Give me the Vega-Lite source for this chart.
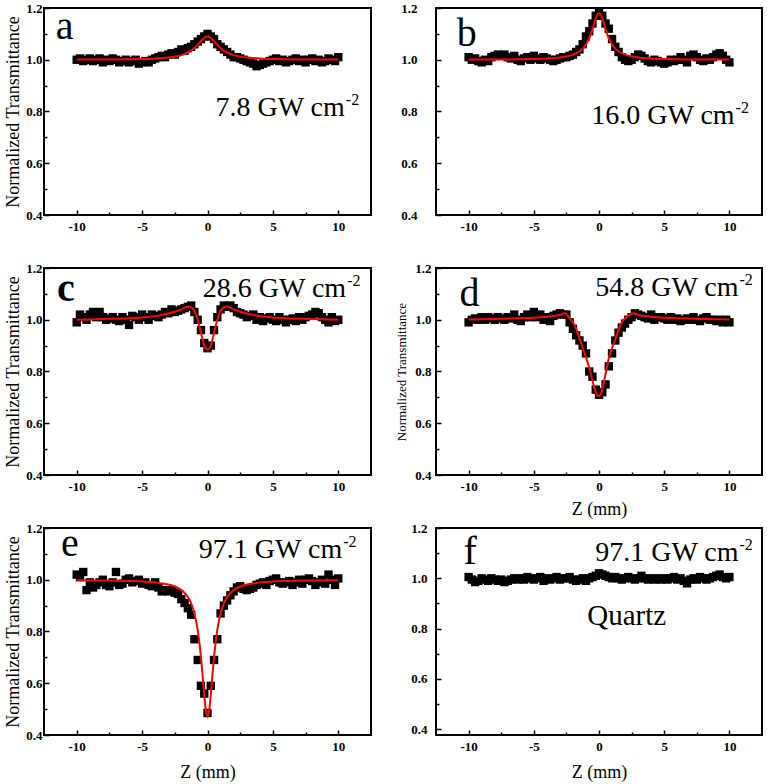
{
"$schema": "https://vega.github.io/schema/vega-lite/v6.json",
"padding": {"left": 3, "top": 1, "right": 0, "bottom": 0},
"bounds": "flush",
"columns": 2,
"spacing": {"row": 53, "column": 65},
"concat": [
  {"width": 327, "height": 207,
   "encoding": {
    "x": {"field": "z", "type": "quantitative", "scale": {"domain": [-12.5, 12.5], "nice": false, "zero": false}, "axis": {"values": [-10,-7.5,-5,-2.5,0,2.5,5,7.5,10], "labelExpr": "datum.value % 5 === 0 ? '' + datum.value : ''", "tickSize": {"condition": {"test": "datum.value % 5 === 0", "value": -5}, "value": -3}, "labelPadding": 10, "title": null}},
    "y": {"field": "t", "type": "quantitative", "scale": {"domain": [0.4, 1.2], "nice": false, "zero": false}, "axis": {"values": [0.4,0.5,0.6,0.7,0.8,0.9,1.0,1.1,1.2], "labelExpr": "round(datum.value*10) % 2 === 0 ? format(datum.value, '.1f') : ''", "tickSize": {"condition": {"test": "round(datum.value*10) % 2 === 0", "value": -5}, "value": -3}, "labelPadding": 7, "title": "Normalized Transmittance", "titlePadding": 3}}
   },
   "layer": [
    {"data": {"name": "pts"}, "transform": [{"filter": "datum.p === 'a'"}], "mark": {"type": "point", "shape": "square", "filled": true, "color": "black", "size": 70, "opacity": 1}},
    {"data": {"name": "fit"}, "transform": [{"filter": "datum.p === 'a'"}], "mark": {"type": "line", "color": "#ff0000", "strokeWidth": 2, "interpolate": "monotone"}, "encoding": {}},
    {"data": {"name": "letters"}, "transform": [{"filter": "datum.p === 'a'"}], "mark": {"type": "text", "fontSize": 40, "align": "left", "baseline": "alphabetic"}, "encoding": {"text": {"field": "lab"}}},
    {"data": {"name": "ann"}, "transform": [{"filter": "datum.p === 'a'"}], "mark": {"type": "text", "fontSize": 28, "align": "right", "baseline": "alphabetic"}, "encoding": {"text": {"field": "lab"}}},
    {"data": {"name": "ann"}, "transform": [{"filter": "datum.p === 'a'"}], "mark": {"type": "text", "fontSize": 16, "align": "left", "baseline": "alphabetic", "dx": 1, "dy": -11}, "encoding": {"text": {"value": "-2"}}}
   ]},
  {"width": 326, "height": 207,
   "encoding": {
    "x": {"field": "z", "type": "quantitative", "scale": {"domain": [-12.5, 12.5], "nice": false, "zero": false}, "axis": {"values": [-10,-7.5,-5,-2.5,0,2.5,5,7.5,10], "labelExpr": "datum.value % 5 === 0 ? '' + datum.value : ''", "tickSize": {"condition": {"test": "datum.value % 5 === 0", "value": -5}, "value": -3}, "labelPadding": 10, "title": null}},
    "y": {"field": "t", "type": "quantitative", "scale": {"domain": [0.4, 1.2], "nice": false, "zero": false}, "axis": {"values": [0.4,0.5,0.6,0.7,0.8,0.9,1.0,1.1,1.2], "labelExpr": "round(datum.value*10) % 2 === 0 ? format(datum.value, '.1f') : ''", "tickSize": {"condition": {"test": "round(datum.value*10) % 2 === 0", "value": -5}, "value": -3}, "labelPadding": 24, "title": null}}
   },
   "layer": [
    {"data": {"name": "pts"}, "transform": [{"filter": "datum.p === 'b'"}], "mark": {"type": "point", "shape": "square", "filled": true, "color": "black", "size": 70, "opacity": 1}},
    {"data": {"name": "fit"}, "transform": [{"filter": "datum.p === 'b'"}], "mark": {"type": "line", "color": "#ff0000", "strokeWidth": 2, "interpolate": "monotone"}, "encoding": {}},
    {"data": {"name": "letters"}, "transform": [{"filter": "datum.p === 'b'"}], "mark": {"type": "text", "fontSize": 40, "align": "left", "baseline": "alphabetic"}, "encoding": {"text": {"field": "lab"}}},
    {"data": {"name": "ann"}, "transform": [{"filter": "datum.p === 'b'"}], "mark": {"type": "text", "fontSize": 28, "align": "right", "baseline": "alphabetic"}, "encoding": {"text": {"field": "lab"}}},
    {"data": {"name": "ann"}, "transform": [{"filter": "datum.p === 'b'"}], "mark": {"type": "text", "fontSize": 16, "align": "left", "baseline": "alphabetic", "dx": 1, "dy": -11}, "encoding": {"text": {"value": "-2"}}}
   ]},
   {"width": 327, "height": 207,
    "encoding": {
     "x": {"field": "z", "type": "quantitative", "scale": {"domain": [-12.5, 12.5], "nice": false, "zero": false}, "axis": {"values": [-10,-7.5,-5,-2.5,0,2.5,5,7.5,10], "labelExpr": "datum.value % 5 === 0 ? '' + datum.value : ''", "tickSize": {"condition": {"test": "datum.value % 5 === 0", "value": -5}, "value": -3}, "labelPadding": 10, "title": null}},
     "y": {"field": "t", "type": "quantitative", "scale": {"domain": [0.4, 1.2], "nice": false, "zero": false}, "axis": {"values": [0.4,0.5,0.6,0.7,0.8,0.9,1.0,1.1,1.2], "labelExpr": "round(datum.value*10) % 2 === 0 ? format(datum.value, '.1f') : ''", "tickSize": {"condition": {"test": "round(datum.value*10) % 2 === 0", "value": -5}, "value": -3}, "labelPadding": 7, "title": "Normalized Transmittance", "titlePadding": 3}}
    },
    "layer": [
     {"data": {"name": "pts"}, "transform": [{"filter": "datum.p === 'c'"}], "mark": {"type": "point", "shape": "square", "filled": true, "color": "black", "size": 70, "opacity": 1}},
     {"data": {"name": "fit"}, "transform": [{"filter": "datum.p === 'c'"}], "mark": {"type": "line", "color": "#ff0000", "strokeWidth": 2, "interpolate": "monotone"}, "encoding": {}},
     {"data": {"name": "letters"}, "transform": [{"filter": "datum.p === 'c'"}], "mark": {"type": "text", "fontSize": 40, "align": "left", "baseline": "alphabetic", "fontWeight": "bold"}, "encoding": {"text": {"field": "lab"}}},
     {"data": {"name": "ann"}, "transform": [{"filter": "datum.p === 'c'"}], "mark": {"type": "text", "fontSize": 28, "align": "right", "baseline": "alphabetic"}, "encoding": {"text": {"field": "lab"}}},
     {"data": {"name": "ann"}, "transform": [{"filter": "datum.p === 'c'"}], "mark": {"type": "text", "fontSize": 16, "align": "left", "baseline": "alphabetic", "dx": 1, "dy": -11}, "encoding": {"text": {"value": "-2"}}}
    ]},
   {"width": 326, "height": 207,
    "encoding": {
     "x": {"field": "z", "type": "quantitative", "scale": {"domain": [-12.5, 12.5], "nice": false, "zero": false}, "axis": {"values": [-10,-7.5,-5,-2.5,0,2.5,5,7.5,10], "labelExpr": "datum.value % 5 === 0 ? '' + datum.value : ''", "tickSize": {"condition": {"test": "datum.value % 5 === 0", "value": -5}, "value": -3}, "labelPadding": 10, "title": "Z (mm)", "titlePadding": 7}},
     "y": {"field": "t", "type": "quantitative", "scale": {"domain": [0.4, 1.2], "nice": false, "zero": false}, "axis": {"values": [0.4,0.5,0.6,0.7,0.8,0.9,1.0,1.1,1.2], "labelExpr": "round(datum.value*10) % 2 === 0 ? format(datum.value, '.1f') : ''", "tickSize": {"condition": {"test": "round(datum.value*10) % 2 === 0", "value": -5}, "value": -3}, "labelPadding": 10, "title": "Normalized Transmittance", "titleFontSize": 13, "titlePadding": 6}}
    },
    "layer": [
     {"data": {"name": "pts"}, "transform": [{"filter": "datum.p === 'd'"}], "mark": {"type": "point", "shape": "square", "filled": true, "color": "black", "size": 70, "opacity": 1}},
     {"data": {"name": "fit"}, "transform": [{"filter": "datum.p === 'd'"}], "mark": {"type": "line", "color": "#ff0000", "strokeWidth": 2, "interpolate": "monotone"}, "encoding": {}},
     {"data": {"name": "letters"}, "transform": [{"filter": "datum.p === 'd'"}], "mark": {"type": "text", "fontSize": 40, "align": "left", "baseline": "alphabetic"}, "encoding": {"text": {"field": "lab"}}},
     {"data": {"name": "ann"}, "transform": [{"filter": "datum.p === 'd'"}], "mark": {"type": "text", "fontSize": 28, "align": "right", "baseline": "alphabetic"}, "encoding": {"text": {"field": "lab"}}},
     {"data": {"name": "ann"}, "transform": [{"filter": "datum.p === 'd'"}], "mark": {"type": "text", "fontSize": 16, "align": "left", "baseline": "alphabetic", "dx": 1, "dy": -11}, "encoding": {"text": {"value": "-2"}}}
    ]},
   {"width": 327, "height": 207,
    "encoding": {
     "x": {"field": "z", "type": "quantitative", "scale": {"domain": [-12.5, 12.5], "nice": false, "zero": false}, "axis": {"values": [-10,-7.5,-5,-2.5,0,2.5,5,7.5,10], "labelExpr": "datum.value % 5 === 0 ? '' + datum.value : ''", "tickSize": {"condition": {"test": "datum.value % 5 === 0", "value": -5}, "value": -3}, "labelPadding": 10, "title": "Z (mm)", "titlePadding": 10}},
     "y": {"field": "t", "type": "quantitative", "scale": {"domain": [0.4, 1.2], "nice": false, "zero": false}, "axis": {"values": [0.4,0.5,0.6,0.7,0.8,0.9,1.0,1.1,1.2], "labelExpr": "round(datum.value*10) % 2 === 0 ? format(datum.value, '.1f') : ''", "tickSize": {"condition": {"test": "round(datum.value*10) % 2 === 0", "value": -5}, "value": -3}, "labelPadding": 7, "title": "Normalized Transmittance", "titlePadding": 3}}
    },
    "layer": [
     {"data": {"name": "pts"}, "transform": [{"filter": "datum.p === 'e'"}], "mark": {"type": "point", "shape": "square", "filled": true, "color": "black", "size": 70, "opacity": 1}},
     {"data": {"name": "fit"}, "transform": [{"filter": "datum.p === 'e'"}], "mark": {"type": "line", "color": "#ff0000", "strokeWidth": 2, "interpolate": "monotone"}, "encoding": {}},
     {"data": {"name": "letters"}, "transform": [{"filter": "datum.p === 'e'"}], "mark": {"type": "text", "fontSize": 40, "align": "left", "baseline": "alphabetic"}, "encoding": {"text": {"field": "lab"}}},
     {"data": {"name": "ann"}, "transform": [{"filter": "datum.p === 'e'"}], "mark": {"type": "text", "fontSize": 28, "align": "right", "baseline": "alphabetic"}, "encoding": {"text": {"field": "lab"}}},
     {"data": {"name": "ann"}, "transform": [{"filter": "datum.p === 'e'"}], "mark": {"type": "text", "fontSize": 16, "align": "left", "baseline": "alphabetic", "dx": 1, "dy": -11}, "encoding": {"text": {"value": "-2"}}}
    ]},
   {"width": 326, "height": 207,
    "encoding": {
     "x": {"field": "z", "type": "quantitative", "scale": {"domain": [-12.5, 12.5], "nice": false, "zero": false}, "axis": {"values": [-10,-7.5,-5,-2.5,0,2.5,5,7.5,10], "labelExpr": "datum.value % 5 === 0 ? '' + datum.value : ''", "tickSize": {"condition": {"test": "datum.value % 5 === 0", "value": -5}, "value": -3}, "labelPadding": 10, "title": "Z (mm)", "titlePadding": 10}},
     "y": {"field": "t", "type": "quantitative", "scale": {"domain": [0.377, 1.2], "nice": false, "zero": false}, "axis": {"values": [0.4,0.5,0.6,0.7,0.8,0.9,1.0,1.1,1.2], "labelExpr": "round(datum.value*10) % 2 === 0 ? format(datum.value, '.1f') : ''", "tickSize": {"condition": {"test": "round(datum.value*10) % 2 === 0", "value": -5}, "value": -3}, "labelPadding": 14, "title": null}}
    },
    "layer": [
     {"data": {"name": "pts"}, "transform": [{"filter": "datum.p === 'f'"}], "mark": {"type": "point", "shape": "square", "filled": true, "color": "black", "size": 70, "opacity": 1}},
     {"data": {"name": "letters"}, "transform": [{"filter": "datum.p === 'f'"}], "mark": {"type": "text", "fontSize": 40, "align": "left", "baseline": "alphabetic"}, "encoding": {"text": {"field": "lab"}}},
     {"data": {"name": "ann"}, "transform": [{"filter": "datum.p === 'f'"}], "mark": {"type": "text", "fontSize": 28, "align": "right", "baseline": "alphabetic"}, "encoding": {"text": {"field": "lab"}}},
     {"data": {"name": "ann"}, "transform": [{"filter": "datum.p === 'f'"}], "mark": {"type": "text", "fontSize": 16, "align": "left", "baseline": "alphabetic", "dx": 1, "dy": -11}, "encoding": {"text": {"value": "-2"}}},
     {"data": {"name": "note"}, "transform": [{"filter": "datum.p === 'f'"}], "mark": {"type": "text", "fontSize": 29, "align": "left", "baseline": "alphabetic"}, "encoding": {"text": {"field": "lab"}}}
    ]}
],
"datasets": {
 "letters": [
  {"p":"a","z":-11.6,"t":1.08,"lab":"a"},
  {"p":"b","z":-10.9,"t":1.053,"lab":"b"},
  {"p":"c","z":-11.5,"t":1.072,"lab":"c"},
  {"p":"d","z":-10.7,"t":1.053,"lab":"d"},
  {"p":"e","z":-11.2,"t":1.092,"lab":"e"},
  {"p":"f","z":-10.4,"t":1.058,"lab":"f"}
 ],
 "ann": [
  {"p":"a","z":10.5,"t":0.783,"lab":"7.8 GW cm"},
  {"p":"b","z":10.4,"t":0.753,"lab":"16.0 GW cm"},
  {"p":"c","z":10.6,"t":1.088,"lab":"28.6 GW cm"},
  {"p":"d","z":10.7,"t":1.092,"lab":"54.8 GW cm"},
  {"p":"e","z":10.3,"t":1.084,"lab":"97.1 GW cm"},
  {"p":"f","z":10.7,"t":1.07,"lab":"97.1 GW cm"}
 ],
 "note": [
  {"p":"f","z":-0.9,"t":0.814,"lab":"Quartz"}
 ],
 "fit": [
  {"p":"a","z":-10,"t":1.001},{"p":"a","z":-8,"t":1.001},{"p":"a","z":-6,"t":1.002},{"p":"a","z":-5,"t":1.003},{"p":"a","z":-4,"t":1.005},{"p":"a","z":-3,"t":1.009},{"p":"a","z":-2.5,"t":1.012},{"p":"a","z":-2,"t":1.018},{"p":"a","z":-1.5,"t":1.028},{"p":"a","z":-1.25,"t":1.035},{"p":"a","z":-1,"t":1.045},{"p":"a","z":-0.75,"t":1.058},{"p":"a","z":-0.5,"t":1.072},{"p":"a","z":-0.25,"t":1.085},{"p":"a","z":0,"t":1.09},{"p":"a","z":0.25,"t":1.085},{"p":"a","z":0.5,"t":1.072},{"p":"a","z":0.75,"t":1.058},{"p":"a","z":1,"t":1.045},{"p":"a","z":1.25,"t":1.035},{"p":"a","z":1.5,"t":1.028},{"p":"a","z":2,"t":1.018},{"p":"a","z":2.5,"t":1.012},{"p":"a","z":3,"t":1.009},{"p":"a","z":4,"t":1.005},{"p":"a","z":5,"t":1.003},{"p":"a","z":6,"t":1.002},{"p":"a","z":8,"t":1.001},{"p":"a","z":10,"t":1.001},
  {"p":"b","z":-10,"t":1.001},{"p":"b","z":-8,"t":1.001},{"p":"b","z":-6,"t":1.002},{"p":"b","z":-5,"t":1.003},{"p":"b","z":-4,"t":1.005},{"p":"b","z":-3,"t":1.009},{"p":"b","z":-2.5,"t":1.013},{"p":"b","z":-2,"t":1.02},{"p":"b","z":-1.5,"t":1.032},{"p":"b","z":-1.25,"t":1.043},{"p":"b","z":-1,"t":1.059},{"p":"b","z":-0.75,"t":1.084},{"p":"b","z":-0.625,"t":1.1},{"p":"b","z":-0.5,"t":1.119},{"p":"b","z":-0.375,"t":1.14},{"p":"b","z":-0.25,"t":1.16},{"p":"b","z":-0.125,"t":1.174},{"p":"b","z":0,"t":1.18},{"p":"b","z":0.125,"t":1.174},{"p":"b","z":0.25,"t":1.16},{"p":"b","z":0.375,"t":1.14},{"p":"b","z":0.5,"t":1.119},{"p":"b","z":0.625,"t":1.1},{"p":"b","z":0.75,"t":1.084},{"p":"b","z":1,"t":1.059},{"p":"b","z":1.25,"t":1.043},{"p":"b","z":1.5,"t":1.032},{"p":"b","z":2,"t":1.02},{"p":"b","z":2.5,"t":1.013},{"p":"b","z":3,"t":1.009},{"p":"b","z":4,"t":1.005},{"p":"b","z":5,"t":1.003},{"p":"b","z":6,"t":1.002},{"p":"b","z":8,"t":1.001},{"p":"b","z":10,"t":1.001},
  {"p":"c","z":-10,"t":1.0},{"p":"c","z":-8,"t":1.003},{"p":"c","z":-6,"t":1.006},{"p":"c","z":-5,"t":1.009},{"p":"c","z":-4,"t":1.014},{"p":"c","z":-3,"t":1.024},{"p":"c","z":-2.5,"t":1.031},{"p":"c","z":-2,"t":1.04},{"p":"c","z":-1.75,"t":1.046},{"p":"c","z":-1.5,"t":1.051},{"p":"c","z":-1.25,"t":1.048},{"p":"c","z":-1,"t":1.035},{"p":"c","z":-0.75,"t":1.0},{"p":"c","z":-0.5,"t":0.95},{"p":"c","z":-0.25,"t":0.9},{"p":"c","z":0,"t":0.885},{"p":"c","z":0.25,"t":0.9},{"p":"c","z":0.5,"t":0.95},{"p":"c","z":0.75,"t":1.0},{"p":"c","z":1,"t":1.035},{"p":"c","z":1.25,"t":1.048},{"p":"c","z":1.5,"t":1.051},{"p":"c","z":1.75,"t":1.046},{"p":"c","z":2,"t":1.04},{"p":"c","z":2.5,"t":1.031},{"p":"c","z":3,"t":1.024},{"p":"c","z":4,"t":1.014},{"p":"c","z":5,"t":1.009},{"p":"c","z":6,"t":1.006},{"p":"c","z":8,"t":1.003},{"p":"c","z":10,"t":1.0},
  {"p":"d","z":-10,"t":1.001},{"p":"d","z":-8,"t":1.003},{"p":"d","z":-6,"t":1.006},{"p":"d","z":-5,"t":1.008},{"p":"d","z":-4,"t":1.012},{"p":"d","z":-3,"t":1.018},{"p":"d","z":-2.6,"t":1.025},{"p":"d","z":-2.25,"t":1.005},{"p":"d","z":-2,"t":0.99},{"p":"d","z":-1.75,"t":0.965},{"p":"d","z":-1.5,"t":0.93},{"p":"d","z":-1.25,"t":0.89},{"p":"d","z":-1,"t":0.855},{"p":"d","z":-0.75,"t":0.815},{"p":"d","z":-0.5,"t":0.765},{"p":"d","z":-0.25,"t":0.72},{"p":"d","z":0,"t":0.705},{"p":"d","z":0.25,"t":0.73},{"p":"d","z":0.5,"t":0.79},{"p":"d","z":0.75,"t":0.85},{"p":"d","z":1,"t":0.89},{"p":"d","z":1.25,"t":0.925},{"p":"d","z":1.5,"t":0.96},{"p":"d","z":1.75,"t":0.99},{"p":"d","z":2,"t":1.005},{"p":"d","z":2.25,"t":1.015},{"p":"d","z":2.6,"t":1.025},{"p":"d","z":3,"t":1.018},{"p":"d","z":4,"t":1.012},{"p":"d","z":5,"t":1.008},{"p":"d","z":6,"t":1.006},{"p":"d","z":8,"t":1.003},{"p":"d","z":10,"t":1.001},
  {"p":"e","z":-10,"t":0.998},{"p":"e","z":-8,"t":0.997},{"p":"e","z":-6,"t":0.995},{"p":"e","z":-5,"t":0.993},{"p":"e","z":-4,"t":0.989},{"p":"e","z":-3,"t":0.982},{"p":"e","z":-2.5,"t":0.974},{"p":"e","z":-2,"t":0.96},{"p":"e","z":-1.75,"t":0.949},{"p":"e","z":-1.5,"t":0.933},{"p":"e","z":-1.25,"t":0.909},{"p":"e","z":-1,"t":0.87},{"p":"e","z":-0.75,"t":0.806},{"p":"e","z":-0.625,"t":0.759},{"p":"e","z":-0.5,"t":0.701},{"p":"e","z":-0.375,"t":0.63},{"p":"e","z":-0.25,"t":0.555},{"p":"e","z":-0.125,"t":0.494},{"p":"e","z":0,"t":0.47},{"p":"e","z":0.125,"t":0.494},{"p":"e","z":0.25,"t":0.555},{"p":"e","z":0.375,"t":0.63},{"p":"e","z":0.5,"t":0.701},{"p":"e","z":0.625,"t":0.759},{"p":"e","z":0.75,"t":0.806},{"p":"e","z":1,"t":0.87},{"p":"e","z":1.25,"t":0.909},{"p":"e","z":1.5,"t":0.933},{"p":"e","z":1.75,"t":0.949},{"p":"e","z":2,"t":0.96},{"p":"e","z":2.5,"t":0.974},{"p":"e","z":3,"t":0.982},{"p":"e","z":4,"t":0.989},{"p":"e","z":5,"t":0.993},{"p":"e","z":6,"t":0.995},{"p":"e","z":8,"t":0.997},{"p":"e","z":10,"t":0.998}
 ],
 "pts": [
  {"p":"a","z":-10,"t":1.0},{"p":"a","z":-9.75,"t":1.005},{"p":"a","z":-9.5,"t":0.995},{"p":"a","z":-9.25,"t":1.0},{"p":"a","z":-9,"t":1.005},{"p":"a","z":-8.75,"t":0.995},{"p":"a","z":-8.5,"t":1.0},{"p":"a","z":-8.25,"t":1.005},{"p":"a","z":-8,"t":0.99},{"p":"a","z":-7.75,"t":1.0},{"p":"a","z":-7.5,"t":0.995},{"p":"a","z":-7.25,"t":1.005},{"p":"a","z":-7,"t":1.0},{"p":"a","z":-6.75,"t":0.99},{"p":"a","z":-6.5,"t":0.995},{"p":"a","z":-6.25,"t":1.0},{"p":"a","z":-6,"t":0.99},{"p":"a","z":-5.75,"t":0.995},{"p":"a","z":-5.5,"t":1.0},{"p":"a","z":-5.25,"t":0.985},{"p":"a","z":-5,"t":0.99},
  {"p":"a","z":-4.75,"t":0.995},{"p":"a","z":-4.5,"t":0.99},{"p":"a","z":-4.25,"t":1.0},{"p":"a","z":-4,"t":1.005},{"p":"a","z":-3.75,"t":1.01},{"p":"a","z":-3.5,"t":1.015},{"p":"a","z":-3.25,"t":1.01},{"p":"a","z":-3,"t":1.02},{"p":"a","z":-2.75,"t":1.025},{"p":"a","z":-2.5,"t":1.02},{"p":"a","z":-2.25,"t":1.03},
  {"p":"a","z":-2,"t":1.04},{"p":"a","z":-1.75,"t":1.035},{"p":"a","z":-1.5,"t":1.045},{"p":"a","z":-1.25,"t":1.05},{"p":"a","z":-1,"t":1.06},{"p":"a","z":-0.75,"t":1.07},{"p":"a","z":-0.5,"t":1.08},{"p":"a","z":-0.25,"t":1.09},{"p":"a","z":0,"t":1.1},
  {"p":"a","z":0.25,"t":1.09},{"p":"a","z":0.5,"t":1.08},{"p":"a","z":0.75,"t":1.06},{"p":"a","z":1,"t":1.05},{"p":"a","z":1.25,"t":1.04},{"p":"a","z":1.5,"t":1.03},{"p":"a","z":1.75,"t":1.02},{"p":"a","z":2,"t":1.01},
  {"p":"a","z":2.25,"t":1.01},{"p":"a","z":2.5,"t":1.005},{"p":"a","z":2.75,"t":1.0},{"p":"a","z":3,"t":0.995},{"p":"a","z":3.25,"t":0.99},{"p":"a","z":3.5,"t":0.985},{"p":"a","z":3.75,"t":0.975},{"p":"a","z":4,"t":0.98},{"p":"a","z":4.25,"t":0.985},{"p":"a","z":4.5,"t":0.99},{"p":"a","z":4.75,"t":0.995},
  {"p":"a","z":5,"t":1.0},{"p":"a","z":5.25,"t":1.005},{"p":"a","z":5.5,"t":0.995},{"p":"a","z":5.75,"t":1.0},{"p":"a","z":6,"t":0.99},{"p":"a","z":6.25,"t":0.995},{"p":"a","z":6.5,"t":1.0},{"p":"a","z":6.75,"t":1.005},{"p":"a","z":7,"t":0.995},{"p":"a","z":7.25,"t":1.0},{"p":"a","z":7.5,"t":0.99},{"p":"a","z":7.75,"t":1.0},{"p":"a","z":8,"t":1.005},{"p":"a","z":8.25,"t":0.995},{"p":"a","z":8.5,"t":1.0},{"p":"a","z":8.75,"t":0.99},{"p":"a","z":9,"t":0.995},{"p":"a","z":9.25,"t":1.005},{"p":"a","z":9.5,"t":1.0},{"p":"a","z":9.75,"t":0.995},{"p":"a","z":10,"t":1.01},

  {"p":"b","z":-10,"t":1.01},{"p":"b","z":-9.75,"t":1.0},{"p":"b","z":-9.5,"t":1.005},{"p":"b","z":-9.25,"t":0.995},{"p":"b","z":-9,"t":0.99},{"p":"b","z":-8.75,"t":1.0},{"p":"b","z":-8.5,"t":0.995},{"p":"b","z":-8.25,"t":1.01},{"p":"b","z":-8,"t":1.015},{"p":"b","z":-7.75,"t":1.02},{"p":"b","z":-7.5,"t":1.015},{"p":"b","z":-7.25,"t":1.02},{"p":"b","z":-7,"t":1.01},{"p":"b","z":-6.75,"t":1.005},{"p":"b","z":-6.5,"t":1.015},{"p":"b","z":-6.25,"t":1.0},{"p":"b","z":-6,"t":0.995},{"p":"b","z":-5.75,"t":1.005},{"p":"b","z":-5.5,"t":1.01},{"p":"b","z":-5.25,"t":1.0},{"p":"b","z":-5,"t":1.015},
  {"p":"b","z":-4.75,"t":1.005},{"p":"b","z":-4.5,"t":1.0},{"p":"b","z":-4.25,"t":1.01},{"p":"b","z":-4,"t":1.005},{"p":"b","z":-3.75,"t":1.0},{"p":"b","z":-3.5,"t":0.995},{"p":"b","z":-3.25,"t":1.0},{"p":"b","z":-3,"t":1.005},{"p":"b","z":-2.75,"t":1.01},{"p":"b","z":-2.5,"t":1.01},{"p":"b","z":-2.25,"t":1.015},
  {"p":"b","z":-2,"t":1.02},{"p":"b","z":-1.75,"t":1.03},{"p":"b","z":-1.5,"t":1.04},{"p":"b","z":-1.25,"t":1.06},{"p":"b","z":-1,"t":1.09},{"p":"b","z":-0.75,"t":1.11},{"p":"b","z":-0.5,"t":1.14},{"p":"b","z":-0.25,"t":1.17},{"p":"b","z":0,"t":1.18},
  {"p":"b","z":0.25,"t":1.17},{"p":"b","z":0.5,"t":1.14},{"p":"b","z":0.75,"t":1.12},{"p":"b","z":1,"t":1.08},{"p":"b","z":1.25,"t":1.05},{"p":"b","z":1.5,"t":1.03},{"p":"b","z":1.75,"t":1.01},{"p":"b","z":2,"t":1.0},
  {"p":"b","z":2.25,"t":0.995},{"p":"b","z":2.5,"t":1.0},{"p":"b","z":2.75,"t":1.01},{"p":"b","z":3,"t":1.02},{"p":"b","z":3.25,"t":1.015},{"p":"b","z":3.5,"t":1.005},{"p":"b","z":3.75,"t":0.995},{"p":"b","z":4,"t":0.99},{"p":"b","z":4.25,"t":1.0},{"p":"b","z":4.5,"t":0.995},{"p":"b","z":4.75,"t":0.99},
  {"p":"b","z":5,"t":0.985},{"p":"b","z":5.25,"t":0.99},{"p":"b","z":5.5,"t":1.0},{"p":"b","z":5.75,"t":0.995},{"p":"b","z":6,"t":1.0},{"p":"b","z":6.25,"t":1.01},{"p":"b","z":6.5,"t":1.0},{"p":"b","z":6.75,"t":0.99},{"p":"b","z":7,"t":1.015},{"p":"b","z":7.25,"t":1.02},{"p":"b","z":7.5,"t":1.01},{"p":"b","z":7.75,"t":1.0},{"p":"b","z":8,"t":0.995},{"p":"b","z":8.25,"t":1.005},{"p":"b","z":8.5,"t":1.0},{"p":"b","z":8.75,"t":1.01},{"p":"b","z":9,"t":1.02},{"p":"b","z":9.25,"t":1.025},{"p":"b","z":9.5,"t":1.015},{"p":"b","z":9.75,"t":1.0},{"p":"b","z":10,"t":0.99},

  {"p":"c","z":-10,"t":0.99},{"p":"c","z":-9.75,"t":1.02},{"p":"c","z":-9.5,"t":1.01},{"p":"c","z":-9.25,"t":1.0},{"p":"c","z":-9,"t":1.02},{"p":"c","z":-8.75,"t":1.03},{"p":"c","z":-8.5,"t":1.01},{"p":"c","z":-8.25,"t":1.03},{"p":"c","z":-8,"t":1.01},{"p":"c","z":-7.75,"t":1.0},{"p":"c","z":-7.5,"t":1.005},{"p":"c","z":-7.25,"t":1.01},{"p":"c","z":-7,"t":1.0},{"p":"c","z":-6.75,"t":0.995},{"p":"c","z":-6.5,"t":1.01},{"p":"c","z":-6.25,"t":1.0},{"p":"c","z":-6,"t":0.98},{"p":"c","z":-5.75,"t":1.015},{"p":"c","z":-5.5,"t":1.01},{"p":"c","z":-5.25,"t":1.0},{"p":"c","z":-5,"t":1.02},
  {"p":"c","z":-4.75,"t":1.01},{"p":"c","z":-4.5,"t":1.0},{"p":"c","z":-4.25,"t":1.02},{"p":"c","z":-4,"t":1.015},{"p":"c","z":-3.75,"t":1.01},{"p":"c","z":-3.5,"t":1.02},{"p":"c","z":-3.25,"t":1.03},{"p":"c","z":-3,"t":1.025},{"p":"c","z":-2.75,"t":1.04},{"p":"c","z":-2.5,"t":1.03},{"p":"c","z":-2.25,"t":1.035},
  {"p":"c","z":-2,"t":1.04},{"p":"c","z":-1.75,"t":1.045},{"p":"c","z":-1.5,"t":1.05},{"p":"c","z":-1.25,"t":1.055},{"p":"c","z":-1,"t":1.03},{"p":"c","z":-0.75,"t":1.0},{"p":"c","z":-0.5,"t":0.96},{"p":"c","z":-0.25,"t":0.91},{"p":"c","z":0,"t":0.89},
  {"p":"c","z":0.25,"t":0.9},{"p":"c","z":0.5,"t":0.96},{"p":"c","z":0.75,"t":1.01},{"p":"c","z":1,"t":1.04},{"p":"c","z":1.25,"t":1.055},{"p":"c","z":1.5,"t":1.05},{"p":"c","z":1.75,"t":1.055},{"p":"c","z":2,"t":1.045},
  {"p":"c","z":2.25,"t":1.03},{"p":"c","z":2.5,"t":1.025},{"p":"c","z":2.75,"t":1.02},{"p":"c","z":3,"t":1.01},{"p":"c","z":3.25,"t":1.015},{"p":"c","z":3.5,"t":1.02},{"p":"c","z":3.75,"t":1.0},{"p":"c","z":4,"t":1.01},{"p":"c","z":4.25,"t":0.995},{"p":"c","z":4.5,"t":1.005},{"p":"c","z":4.75,"t":1.01},
  {"p":"c","z":5,"t":1.0},{"p":"c","z":5.25,"t":0.995},{"p":"c","z":5.5,"t":1.01},{"p":"c","z":5.75,"t":1.0},{"p":"c","z":6,"t":0.99},{"p":"c","z":6.25,"t":1.0},{"p":"c","z":6.5,"t":1.005},{"p":"c","z":6.75,"t":0.995},{"p":"c","z":7,"t":1.01},{"p":"c","z":7.25,"t":1.0},{"p":"c","z":7.5,"t":1.01},{"p":"c","z":7.75,"t":1.015},{"p":"c","z":8,"t":1.02},{"p":"c","z":8.25,"t":1.03},{"p":"c","z":8.5,"t":1.025},{"p":"c","z":8.75,"t":1.01},{"p":"c","z":9,"t":1.0},{"p":"c","z":9.25,"t":0.99},{"p":"c","z":9.5,"t":1.01},{"p":"c","z":9.75,"t":0.995},{"p":"c","z":10,"t":1.0},

  {"p":"d","z":-10,"t":0.99},{"p":"d","z":-9.75,"t":1.0},{"p":"d","z":-9.5,"t":1.005},{"p":"d","z":-9.25,"t":1.0},{"p":"d","z":-9,"t":1.01},{"p":"d","z":-8.75,"t":1.0},{"p":"d","z":-8.5,"t":1.01},{"p":"d","z":-8.25,"t":1.005},{"p":"d","z":-8,"t":1.0},{"p":"d","z":-7.75,"t":1.01},{"p":"d","z":-7.5,"t":1.005},{"p":"d","z":-7.25,"t":1.0},{"p":"d","z":-7,"t":1.01},{"p":"d","z":-6.75,"t":1.005},{"p":"d","z":-6.5,"t":1.02},{"p":"d","z":-6.25,"t":1.0},{"p":"d","z":-6,"t":0.995},{"p":"d","z":-5.75,"t":1.01},{"p":"d","z":-5.5,"t":1.02},{"p":"d","z":-5.25,"t":1.01},{"p":"d","z":-5,"t":1.03},
  {"p":"d","z":-4.75,"t":1.01},{"p":"d","z":-4.5,"t":1.02},{"p":"d","z":-4.25,"t":1.0},{"p":"d","z":-4,"t":1.01},{"p":"d","z":-3.75,"t":0.995},{"p":"d","z":-3.5,"t":1.015},{"p":"d","z":-3.25,"t":1.02},{"p":"d","z":-3,"t":1.025},{"p":"d","z":-2.75,"t":1.02},{"p":"d","z":-2.5,"t":1.02},{"p":"d","z":-2.25,"t":0.99},
  {"p":"d","z":-2,"t":0.965},{"p":"d","z":-1.75,"t":0.94},{"p":"d","z":-1.5,"t":0.92},{"p":"d","z":-1.25,"t":0.9},{"p":"d","z":-1,"t":0.87},{"p":"d","z":-0.75,"t":0.8},{"p":"d","z":-0.5,"t":0.78},{"p":"d","z":-0.25,"t":0.73},{"p":"d","z":0,"t":0.71},
  {"p":"d","z":0.25,"t":0.72},{"p":"d","z":0.5,"t":0.75},{"p":"d","z":0.75,"t":0.82},{"p":"d","z":1,"t":0.87},{"p":"d","z":1.25,"t":0.92},{"p":"d","z":1.5,"t":0.95},{"p":"d","z":1.75,"t":0.97},{"p":"d","z":2,"t":0.985},
  {"p":"d","z":2.25,"t":1.0},{"p":"d","z":2.5,"t":1.01},{"p":"d","z":2.75,"t":1.025},{"p":"d","z":3,"t":1.02},{"p":"d","z":3.25,"t":1.015},{"p":"d","z":3.5,"t":1.01},{"p":"d","z":3.75,"t":1.005},{"p":"d","z":4,"t":1.02},{"p":"d","z":4.25,"t":1.0},{"p":"d","z":4.5,"t":1.01},{"p":"d","z":4.75,"t":1.01},
  {"p":"d","z":5,"t":1.005},{"p":"d","z":5.25,"t":1.0},{"p":"d","z":5.5,"t":1.01},{"p":"d","z":5.75,"t":1.0},{"p":"d","z":6,"t":1.005},{"p":"d","z":6.25,"t":0.995},{"p":"d","z":6.5,"t":1.0},{"p":"d","z":6.75,"t":1.005},{"p":"d","z":7,"t":1.0},{"p":"d","z":7.25,"t":1.01},{"p":"d","z":7.5,"t":1.0},{"p":"d","z":7.75,"t":0.995},{"p":"d","z":8,"t":1.005},{"p":"d","z":8.25,"t":1.01},{"p":"d","z":8.5,"t":1.0},{"p":"d","z":8.75,"t":1.0},{"p":"d","z":9,"t":0.995},{"p":"d","z":9.25,"t":1.0},{"p":"d","z":9.5,"t":0.99},{"p":"d","z":9.75,"t":1.0},{"p":"d","z":10,"t":0.99},

  {"p":"e","z":-10,"t":1.02},{"p":"e","z":-9.75,"t":1.01},{"p":"e","z":-9.5,"t":1.03},{"p":"e","z":-9.25,"t":0.96},{"p":"e","z":-9,"t":0.99},{"p":"e","z":-8.75,"t":0.97},{"p":"e","z":-8.5,"t":0.98},{"p":"e","z":-8.25,"t":0.99},{"p":"e","z":-8,"t":1.0},{"p":"e","z":-7.75,"t":0.98},{"p":"e","z":-7.5,"t":0.975},{"p":"e","z":-7.25,"t":0.99},{"p":"e","z":-7,"t":1.03},{"p":"e","z":-6.75,"t":0.98},{"p":"e","z":-6.5,"t":0.985},{"p":"e","z":-6.25,"t":1.0},{"p":"e","z":-6,"t":1.005},{"p":"e","z":-5.75,"t":0.99},{"p":"e","z":-5.5,"t":0.995},{"p":"e","z":-5.25,"t":1.0},{"p":"e","z":-5,"t":0.985},
  {"p":"e","z":-4.75,"t":0.99},{"p":"e","z":-4.5,"t":0.98},{"p":"e","z":-4.25,"t":0.975},{"p":"e","z":-4,"t":0.99},{"p":"e","z":-3.75,"t":0.97},{"p":"e","z":-3.5,"t":0.955},{"p":"e","z":-3.25,"t":0.96},{"p":"e","z":-3,"t":0.955},{"p":"e","z":-2.75,"t":0.96},{"p":"e","z":-2.5,"t":0.95},{"p":"e","z":-2.25,"t":0.945},
  {"p":"e","z":-2,"t":0.925},{"p":"e","z":-1.75,"t":0.91},{"p":"e","z":-1.5,"t":0.89},{"p":"e","z":-1.25,"t":0.865},{"p":"e","z":-1,"t":0.77},{"p":"e","z":-0.75,"t":0.69},{"p":"e","z":-0.5,"t":0.59},{"p":"e","z":-0.25,"t":0.56},{"p":"e","z":0,"t":0.485},
  {"p":"e","z":0.25,"t":0.59},{"p":"e","z":0.5,"t":0.69},{"p":"e","z":0.75,"t":0.77},{"p":"e","z":1,"t":0.87},{"p":"e","z":1.25,"t":0.9},{"p":"e","z":1.5,"t":0.92},{"p":"e","z":1.75,"t":0.94},{"p":"e","z":2,"t":0.955},
  {"p":"e","z":2.25,"t":0.97},{"p":"e","z":2.5,"t":0.975},{"p":"e","z":2.75,"t":0.965},{"p":"e","z":3,"t":0.96},{"p":"e","z":3.25,"t":0.965},{"p":"e","z":3.5,"t":0.97},{"p":"e","z":3.75,"t":0.98},{"p":"e","z":4,"t":0.985},{"p":"e","z":4.25,"t":0.99},{"p":"e","z":4.5,"t":0.98},{"p":"e","z":4.75,"t":0.995},
  {"p":"e","z":5,"t":1.0},{"p":"e","z":5.25,"t":1.005},{"p":"e","z":5.5,"t":0.99},{"p":"e","z":5.75,"t":0.985},{"p":"e","z":6,"t":0.99},{"p":"e","z":6.25,"t":0.995},{"p":"e","z":6.5,"t":0.98},{"p":"e","z":6.75,"t":0.99},{"p":"e","z":7,"t":1.0},{"p":"e","z":7.25,"t":0.985},{"p":"e","z":7.5,"t":1.0},{"p":"e","z":7.75,"t":1.005},{"p":"e","z":8,"t":0.995},{"p":"e","z":8.25,"t":0.98},{"p":"e","z":8.5,"t":0.99},{"p":"e","z":8.75,"t":1.0},{"p":"e","z":9,"t":0.985},{"p":"e","z":9.25,"t":1.02},{"p":"e","z":9.5,"t":1.0},{"p":"e","z":9.75,"t":0.98},{"p":"e","z":10,"t":1.005},

  {"p":"f","z":-10,"t":1.005},{"p":"f","z":-9.75,"t":0.995},{"p":"f","z":-9.5,"t":0.985},{"p":"f","z":-9.25,"t":0.99},{"p":"f","z":-9,"t":1.0},{"p":"f","z":-8.75,"t":0.995},{"p":"f","z":-8.5,"t":0.99},{"p":"f","z":-8.25,"t":1.0},{"p":"f","z":-8,"t":0.995},{"p":"f","z":-7.75,"t":0.99},{"p":"f","z":-7.5,"t":0.995},{"p":"f","z":-7.25,"t":0.985},{"p":"f","z":-7,"t":0.99},{"p":"f","z":-6.75,"t":0.995},{"p":"f","z":-6.5,"t":1.0},{"p":"f","z":-6.25,"t":0.995},{"p":"f","z":-6,"t":1.0},{"p":"f","z":-5.75,"t":0.995},{"p":"f","z":-5.5,"t":1.005},{"p":"f","z":-5.25,"t":1.0},{"p":"f","z":-5,"t":0.995},
  {"p":"f","z":-4.75,"t":1.0},{"p":"f","z":-4.5,"t":1.005},{"p":"f","z":-4.25,"t":0.99},{"p":"f","z":-4,"t":1.0},{"p":"f","z":-3.75,"t":0.995},{"p":"f","z":-3.5,"t":1.0},{"p":"f","z":-3.25,"t":1.005},{"p":"f","z":-3,"t":0.995},{"p":"f","z":-2.75,"t":1.0},{"p":"f","z":-2.5,"t":1.0},{"p":"f","z":-2.25,"t":1.005},
  {"p":"f","z":-2,"t":0.995},{"p":"f","z":-1.75,"t":0.99},{"p":"f","z":-1.5,"t":0.995},{"p":"f","z":-1.25,"t":1.0},{"p":"f","z":-1,"t":0.99},{"p":"f","z":-0.75,"t":1.0},{"p":"f","z":-0.5,"t":1.005},{"p":"f","z":-0.25,"t":1.01},{"p":"f","z":0,"t":1.02},
  {"p":"f","z":0.25,"t":1.015},{"p":"f","z":0.5,"t":1.01},{"p":"f","z":0.75,"t":1.005},{"p":"f","z":1,"t":1.0},{"p":"f","z":1.25,"t":1.005},{"p":"f","z":1.5,"t":1.0},{"p":"f","z":1.75,"t":0.995},{"p":"f","z":2,"t":1.0},
  {"p":"f","z":2.25,"t":1.005},{"p":"f","z":2.5,"t":1.0},{"p":"f","z":2.75,"t":0.995},{"p":"f","z":3,"t":1.0},{"p":"f","z":3.25,"t":1.01},{"p":"f","z":3.5,"t":1.0},{"p":"f","z":3.75,"t":0.995},{"p":"f","z":4,"t":1.0},{"p":"f","z":4.25,"t":0.995},{"p":"f","z":4.5,"t":1.0},{"p":"f","z":4.75,"t":0.995},
  {"p":"f","z":5,"t":1.0},{"p":"f","z":5.25,"t":0.995},{"p":"f","z":5.5,"t":1.0},{"p":"f","z":5.75,"t":1.005},{"p":"f","z":6,"t":0.995},{"p":"f","z":6.25,"t":1.0},{"p":"f","z":6.5,"t":0.99},{"p":"f","z":6.75,"t":0.98},{"p":"f","z":7,"t":0.995},{"p":"f","z":7.25,"t":1.0},{"p":"f","z":7.5,"t":0.995},{"p":"f","z":7.75,"t":1.005},{"p":"f","z":8,"t":1.0},{"p":"f","z":8.25,"t":0.995},{"p":"f","z":8.5,"t":1.0},{"p":"f","z":8.75,"t":1.005},{"p":"f","z":9,"t":1.01},{"p":"f","z":9.25,"t":1.015},{"p":"f","z":9.5,"t":1.005},{"p":"f","z":9.75,"t":1.0},{"p":"f","z":10,"t":1.005}
 ]
},
"config": {
 "font": "Liberation Serif",
 "view": {"stroke": "black", "strokeWidth": 2},
 "axis": {"domain": false, "grid": false, "labelFont": "Liberation Serif", "labelFontWeight": "bold", "labelFontSize": 13, "labelColor": "black", "titleFont": "Liberation Serif", "titleFontWeight": "normal", "titleFontSize": 18, "titleColor": "black", "tickColor": "black", "tickWidth": 1.5},
 "text": {"font": "Liberation Serif", "color": "black"}
}
}
